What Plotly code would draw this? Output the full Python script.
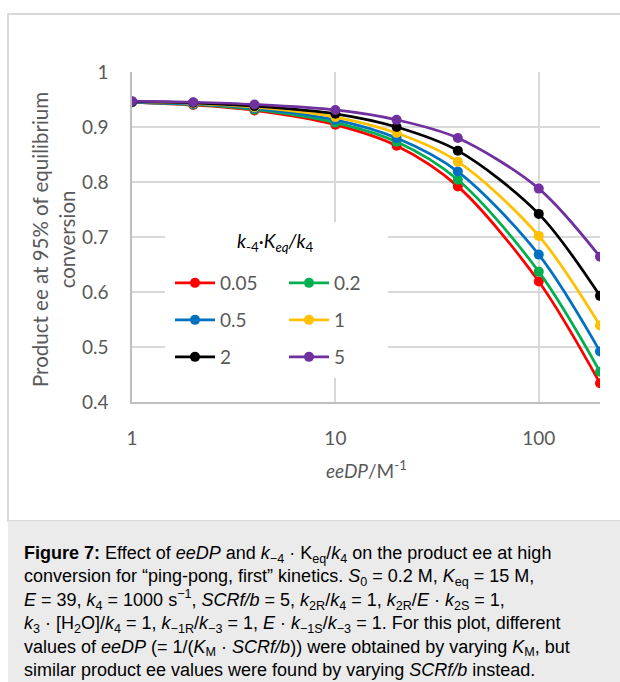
import plotly.graph_objects as go

# eeDP values (M^-1) and product ee at 95 % of equilibrium conversion
ee_dp = [1, 2, 4, 10, 20, 40, 100, 200]
ratio_labels = ["0.05", "0.2", "0.5", "1", "2", "5"]
ee_005 = [0.945, 0.940, 0.930, 0.904, 0.866, 0.792, 0.619, 0.434]
ee_02 = [0.945, 0.941, 0.932, 0.908, 0.873, 0.804, 0.637, 0.455]
ee_05 = [0.945, 0.942, 0.934, 0.913, 0.880, 0.819, 0.668, 0.492]
ee_1 = [0.946, 0.943, 0.936, 0.918, 0.889, 0.837, 0.702, 0.539]
ee_2 = [0.946, 0.944, 0.938, 0.924, 0.900, 0.857, 0.742, 0.593]
ee_5 = [0.947, 0.945, 0.941, 0.931, 0.913, 0.880, 0.788, 0.664]
series_values = [ee_005, ee_02, ee_05, ee_1, ee_2, ee_5]

y_ticks = [0.4, 0.5, 0.6, 0.7, 0.8, 0.9, 1.0]
y_tick_text = ["0.4", "0.5", "0.6", "0.7", "0.8", "0.9", "1"]
x_ticks = [1, 10, 100]
x_tick_text = ["1", "10", "100"]

colors = ["#FF0000", "#00B050", "#0070C0", "#FFC000", "#000000", "#7030A0"]
legend_ids = ["legend", "legend", "legend2", "legend2", "legend3", "legend3"]

W, H = 620, 682
FONT = "Lato"
GREY = "#595959"


def px(x):
    return x / W


def py(y):
    return 1 - y / H


fig = go.Figure()
for name, vals, col, lg in zip(ratio_labels, series_values, colors, legend_ids):
    fig.add_trace(go.Scatter(
        x=ee_dp, y=vals, name=name, mode="lines+markers",
        line=dict(color=col, width=2.75, shape="spline", smoothing=0.9),
        marker=dict(color=col, size=10),
        legend=lg,
    ))

# plot area in pixels
L, R, T, B = 132, 600, 72, 402

shapes = [
    # outer chart frame
    dict(type="rect", xref="paper", yref="paper",
         x0=px(8), x1=px(640), y0=py(521), y1=py(14),
         line=dict(color="#d9d9d9", width=2), fillcolor="white", layer="below"),
    # caption panel
    dict(type="rect", xref="paper", yref="paper",
         x0=px(8), x1=px(640), y0=py(700), y1=py(521),
         line=dict(width=0), fillcolor="#ebebeb", layer="below"),
    # legend backdrop
    dict(type="rect", xref="paper", yref="paper",
         x0=px(165), x1=px(388), y0=py(378), y1=py(222),
         line=dict(width=0), fillcolor="white", layer="above"),
]

legend_common = dict(
    orientation="h", xanchor="left", yanchor="middle",
    bgcolor="rgba(0,0,0,0)", font=dict(family=FONT, size=19, color=GREY),
    entrywidth=59, entrywidthmode="pixels", itemwidth=40,
    tracegroupgap=0,
)

caption_lines = [
    "<b>Figure 7:</b> Effect of <i>eeDP</i> and <i>k</i><sub>\u22124</sub> \u00b7 K<sub>eq</sub>/<i>k</i><sub>4</sub> on the product ee at high",
    "conversion for \u201cping-pong, first\u201d kinetics. <i>S</i><sub>0</sub> = 0.2 M, <i>K</i><sub>eq</sub> = 15 M,",
    "<i>E</i> = 39, <i>k</i><sub>4</sub> = 1000 s<sup>\u22121</sup>, <i>SCRf/b</i> = 5, <i>k</i><sub>2R</sub>/<i>k</i><sub>4</sub> = 1, <i>k</i><sub>2R</sub>/<i>E</i> \u00b7 <i>k</i><sub>2S</sub> = 1,",
    "<i>k</i><sub>3</sub> \u00b7 [H<sub>2</sub>O]/<i>k</i><sub>4</sub> = 1, <i>k</i><sub>\u22121R</sub>/<i>k</i><sub>\u22123</sub> = 1, <i>E</i> \u00b7 <i>k</i><sub>\u22121S</sub>/<i>k</i><sub>\u22123</sub> = 1. For this plot, different",
    "values of <i>eeDP</i> (= 1/(<i>K</i><sub>M</sub> \u00b7 <i>SCRf/b</i>)) were obtained by varying <i>K</i><sub>M</sub>, but",
    "similar product ee values were found by varying <i>SCRf/b</i> instead.",
]

annotations = [
    # y-axis title
    dict(xref="paper", yref="paper", x=px(53), y=py(240),
         text="Product ee at 95% of equilibrium<br>conversion",
         textangle=-90, showarrow=False, xanchor="center", yanchor="middle",
         font=dict(family=FONT, size=20.5, color=GREY)),
    # x-axis title
    dict(xref="paper", yref="paper", x=px(366), y=py(469),
         text="<i>eeDP</i>/M<sup>-1</sup>", showarrow=False,
         xanchor="center", yanchor="middle",
         font=dict(family=FONT, size=19, color=GREY)),
    # legend title
    dict(xref="paper", yref="paper", x=px(275), y=py(242),
         text="<i>k</i><sub>-4</sub>\u00b7<i>K</i><sub><i>eq</i></sub><i>/k</i><sub>4</sub>",
         showarrow=False, xanchor="center", yanchor="middle",
         font=dict(family=FONT, size=19, color="#000000")),
    # figure caption
    dict(xref="paper", yref="paper", x=px(22), y=py(611),
         text="<br>".join(caption_lines), showarrow=False,
         xanchor="left", yanchor="middle", align="left",
         font=dict(family="Liberation Sans", size=18, color="#000000")),
]

fig.update_layout(
    width=W, height=H,
    margin=dict(l=0, r=0, t=0, b=0, autoexpand=False),
    paper_bgcolor="white", plot_bgcolor="rgba(0,0,0,0)",
    showlegend=True,
    shapes=shapes,
    annotations=annotations,
    legend=dict(x=px(170), y=py(283), **legend_common),
    legend2=dict(x=px(170), y=py(320), **legend_common),
    legend3=dict(x=px(170), y=py(357), **legend_common),
    xaxis=dict(
        type="log", range=[0, 2.30103], domain=[px(L), px(R)],
        tickvals=x_ticks, ticktext=x_tick_text, automargin=False,
        showgrid=True, gridcolor="#d9d9d9", gridwidth=1.5,
        showline=True, linecolor="#bfbfbf", linewidth=1.5,
        zeroline=False, ticks="", ticklabelstandoff=18,
        tickfont=dict(family=FONT, size=19, color=GREY),
    ),
    yaxis=dict(
        range=[0.4, 1.0], domain=[py(B), py(T)],
        tickvals=y_ticks, ticktext=y_tick_text, automargin=False,
        showgrid=True, gridcolor="#d9d9d9", gridwidth=1.5,
        showline=True, linecolor="#bfbfbf", linewidth=1.5,
        zeroline=False, ticks="", ticklabelstandoff=18,
        tickfont=dict(family=FONT, size=19, color=GREY),
    ),
)

fig.write_html("out.html")
